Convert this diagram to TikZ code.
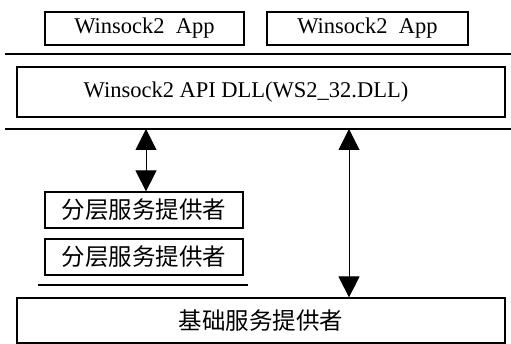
\documentclass[tikz,border=0pt]{standalone}
\usepackage{fontspec}
\setmainfont{Liberation Serif}
\newfontfamily\cjk{Noto Sans CJK SC}
\usetikzlibrary{arrows.meta}
\begin{document}
\begin{tikzpicture}[x=1pt,y=-1pt,
  box/.style={draw,line width=1.2pt,inner sep=0pt,anchor=center},
  lat/.style={font=\fontsize{22.5}{22.5}\selectfont},
  han/.style={font=\cjk\fontsize{23.5}{23.5}\selectfont},
  sep/.style={line width=1.4pt},
  dbl/.style={line width=1pt,{Triangle[width=21pt,length=21pt]}-{Triangle[width=21pt,length=21pt]}}]
\useasboundingbox (0,0) rectangle (511,344);
\node[box,lat,minimum width=199pt,minimum height=33pt] (app1) at (144.5,28.5) {Winsock2~~App};
\node[box,lat,minimum width=201pt,minimum height=33pt] (app2) at (367.5,28.5) {Winsock2~~App};
\coordinate (l1a) at (5,54); \coordinate (l1b) at (511,54);
\draw[sep] (l1a) -- (l1b);
\node[box,lat,minimum width=488pt,minimum height=50pt] (api) at (261,92) {\hspace*{-30pt}Winsock2 API DLL(WS2\_32.DLL)};
\coordinate (l2a) at (5,129); \coordinate (l2b) at (511,129);
\draw[sep] (l2a) -- (l2b);
\node[box,han,minimum width=198pt,minimum height=36pt] (lsp1) at (144,210) {分层服务提供者};
\node[box,han,minimum width=198pt,minimum height=36pt] (lsp2) at (144,257) {分层服务提供者};
\coordinate (l3a) at (38,285); \coordinate (l3b) at (248,285);
\draw[sep] (l3a) -- (l3b);
\node[box,han,minimum width=488pt,minimum height=45pt] (base) at (261,320.5) {基础服务提供者};
\coordinate (t1) at (146,129);
\coordinate (t2) at (349,129);
\draw[dbl] (t1) -- (t1 |- lsp1.north);
\draw[dbl] (t2) -- (t2 |- base.north);
\end{tikzpicture}
\end{document}
